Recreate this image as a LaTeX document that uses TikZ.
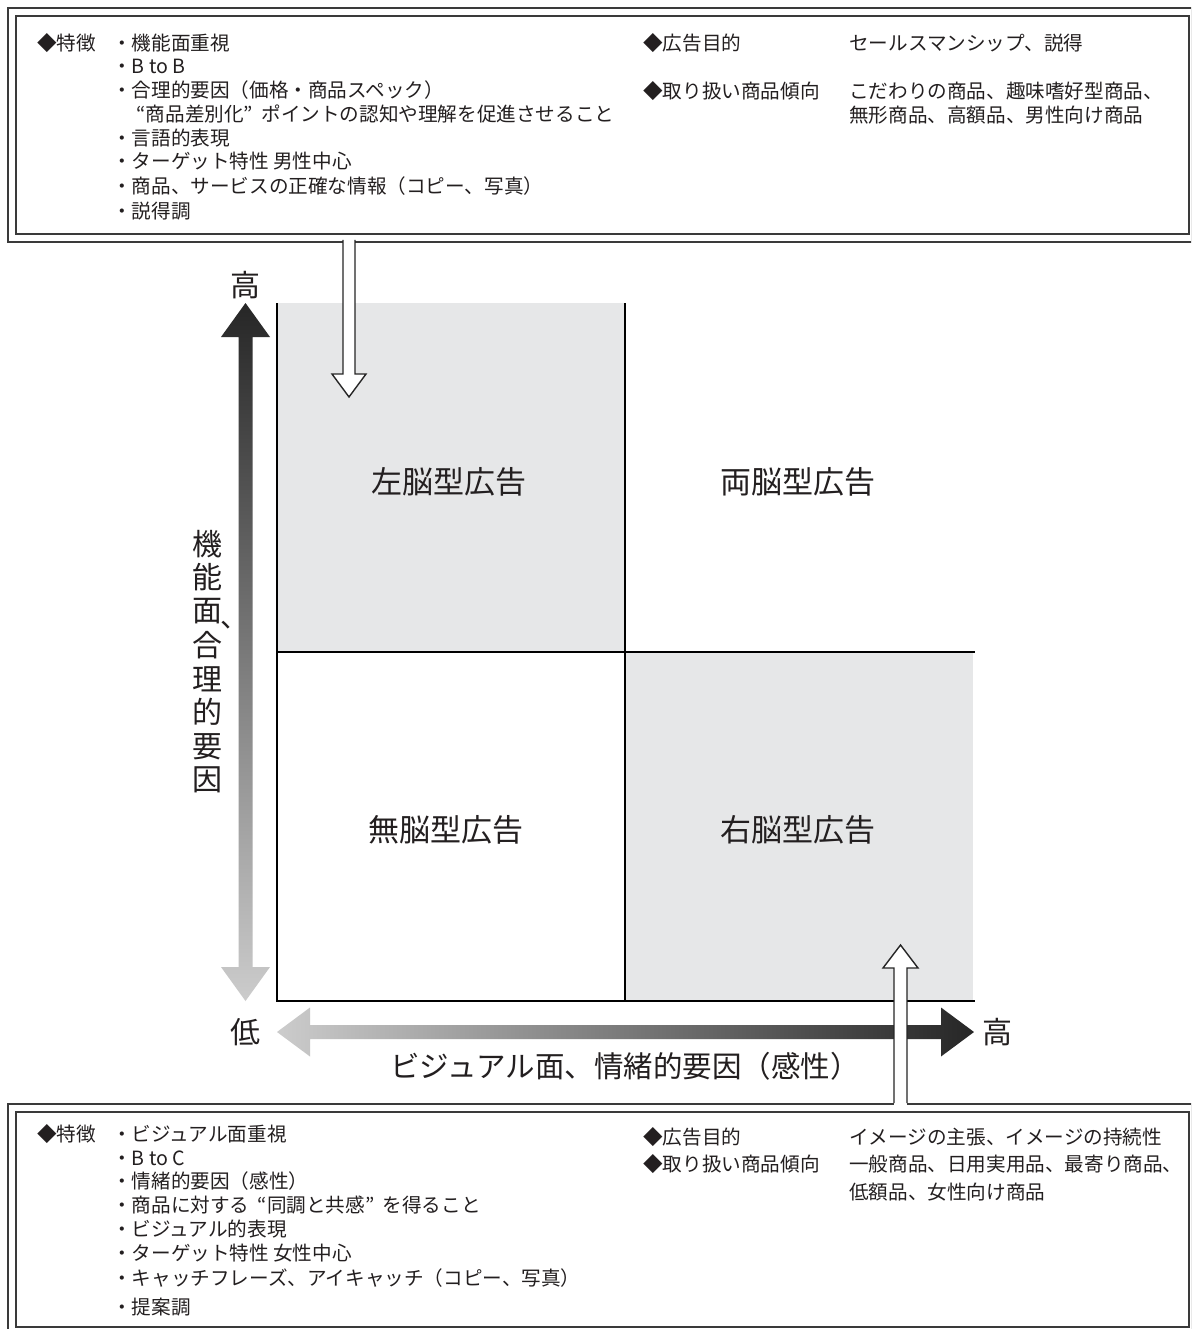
\documentclass[tikz,border=0pt]{standalone}
\usepackage{fontspec}
\setmainfont{Noto Sans CJK JP}
\definecolor{qgray}{HTML}{E6E7E8}
\definecolor{framec}{HTML}{3A3A3A}
\definecolor{ink}{HTML}{231F20}
\newcommand\myoq{\makebox[0.9em][r]{“}}
\newcommand\mycq{\makebox[0.9em][l]{”}}
\begin{document}
\begin{tikzpicture}[x=1pt,y=-1pt,
  txt/.style={font=\fontsize{19.6}{23}\selectfont, text=ink, anchor=west, inner sep=0pt, text height=17.2pt, text depth=2.4pt},
  big/.style={font=\fontsize{30}{36}\selectfont, text=ink, inner sep=0pt, text height=26.4pt, text depth=3.6pt},
  quadlabel/.style={font=\fontsize{31}{36}\selectfont, text=ink, inner sep=0pt, text height=27.3pt, text depth=3.7pt},
  frame/.style={draw=framec, line width=2pt, double=white, double distance=6pt, fill=white, inner sep=0pt, anchor=north west},
  quad/.style={inner sep=0pt, anchor=north west, minimum width=348pt, minimum height=349pt},
  gridline/.style={line width=2pt, draw=black},
  warrow/.style={draw=black!85, line width=1.4pt, line join=miter}
]
\useasboundingbox (0,0) rectangle (1191,1329);
\clip (0,0) rectangle (1191,1329);
\fill[white] (0,0) rectangle (1191,1329);

% ---- boxes
\node[frame, minimum width=1181pt, minimum height=225.5pt] (topbox) at (10.5,11.5) {};
\node[frame, minimum width=1181pt, minimum height=223pt] (botbox) at (10.5,1107) {};

% ---- quadrants
\node[quad, fill=qgray] (q1) at (277,303) {};
\node[quad] (q2) at (625,303) {};
\node[quad] (q3) at (277,652) {};
\node[quad, fill=qgray] (q4) at (625,652) {};
\draw[gridline] (277,303) -- (277,1001) -- (975,1001);
\draw[gridline] (625,303) -- (625,1001);
\draw[gridline] (277,652) -- (975,652);

\node[quadlabel] (l1) at (449,482) {左脳型広告};
\node[quadlabel] (l2) at (798,482) {両脳型広告};
\node[quadlabel] (l3) at (446,830) {無脳型広告};
\node[quadlabel] (l4) at (798,830) {右脳型広告};

% ---- gradient axes
\shade[top color=black!85, bottom color=black!20]
  (245.5,303) -- (270,337) -- (252.5,337) -- (252.5,967) -- (270,967) -- (245.5,1001)
  -- (221,967) -- (238.5,967) -- (238.5,337) -- (221,337) -- cycle;
\shade[left color=black!20, right color=black!85]
  (277,1032) -- (310,1007.5) -- (310,1025) -- (941,1025) -- (941,1007.5) -- (974,1032)
  -- (941,1056.5) -- (941,1039) -- (310,1039) -- (310,1056.5) -- cycle;

\node[big] (hiY) at (245,285) {高};
\node[big] (lo) at (245,1032) {低};
\node[big] (hiX) at (997,1032) {高};

% vertical axis label
\foreach \c/\y [count=\i] in {機/544,能/577.5,面/610,合/645.5,理/679,的/712.5,要/746,因/779.5}
  \node[big] (v\i) at (207,\y) {\c};
\node[font=\fontsize{28}{34}\selectfont, text=ink, inner sep=0pt, anchor=base west] (vcomma) at (220.5,627) {、};

\node[font=\fontsize{29.5}{34}\selectfont, text=ink, inner sep=0pt, text height=26pt, text depth=3.5pt] (xlabel) at (625,1066) {ビジュアル面、情緒的要因（感性）};

% ---- white arrows
\coordinate (ta0) at (349,241);
\coordinate (ta1) at (349,397);
\fill[white] (343,239) rectangle (355,376);
\fill[white] (ta1) -- (332,374) -- (366,374) -- cycle;
\draw[warrow] (343,240) -- (343,374) -- (332,374) -- (ta1) -- (366,374) -- (355,374) -- (355,240);

\coordinate (ba0) at (900.5,1103);
\coordinate (ba1) at (900.5,945);
\fill[white] (894,1105) rectangle (907,966);
\fill[white] (ba1) -- (883,968) -- (918,968) -- cycle;
\draw[warrow] (894,1103) -- (894,968) -- (883,968) -- (ba1) -- (918,968) -- (907,968) -- (907,1103);

% ---- top box text
\node[txt] (tf) at (37,43) {◆特徴};
\foreach \y/\t [count=\i] in {43/・機能面重視, 66.5/・B to B, 90/・合理的要因（価格・商品スペック）, 138/・言語的表現, 161.5/・ターゲット特性 男性中心, 186/・商品、サービスの正確な情報（コピー、写真）, 211/・説得調}
  \node[txt] (tl\i) at (112,\y) {\t};
\node[txt] (tl8) at (128,114) {\myoq 商品差別化\mycq ポイントの認知や理解を促進させること};
\node[txt] (tp) at (643,43) {◆広告目的};
\node[txt] (tpv) at (849,43) {セールスマンシップ、説得};
\node[txt] (tt) at (643,91) {◆取り扱い商品傾向};
\node[txt] (ttv1) at (849,91) {こだわりの商品、趣味嗜好型商品、};
\node[txt] (ttv2) at (849,115) {無形商品、高額品、男性向け商品};

% ---- bottom box text
\node[txt] (bf) at (37,1134) {◆特徴};
\foreach \y/\t [count=\i] in {1134/・ビジュアル面重視, 1158/・B to C, 1181.5/・情緒的要因（感性）, 1229.5/・ビジュアル的表現, 1253.5/・ターゲット特性 女性中心, 1278/・キャッチフレーズ、アイキャッチ（コピー、写真）, 1307/・提案調}
  \node[txt] (bl\i) at (112,\y) {\t};
\node[txt] (bl8) at (112,1205.5) {・商品に対する\myoq 同調と共感\mycq を得ること};
\node[txt] (bp) at (643,1137) {◆広告目的};
\node[txt] (bpv) at (849,1137) {イメージの主張、イメージの持続性};
\node[txt] (bt) at (643,1164) {◆取り扱い商品傾向};
\node[txt] (btv1) at (849,1164) {一般商品、日用実用品、最寄り商品、};
\node[txt] (btv2) at (849,1192) {低額品、女性向け商品};
\end{tikzpicture}
\end{document}
